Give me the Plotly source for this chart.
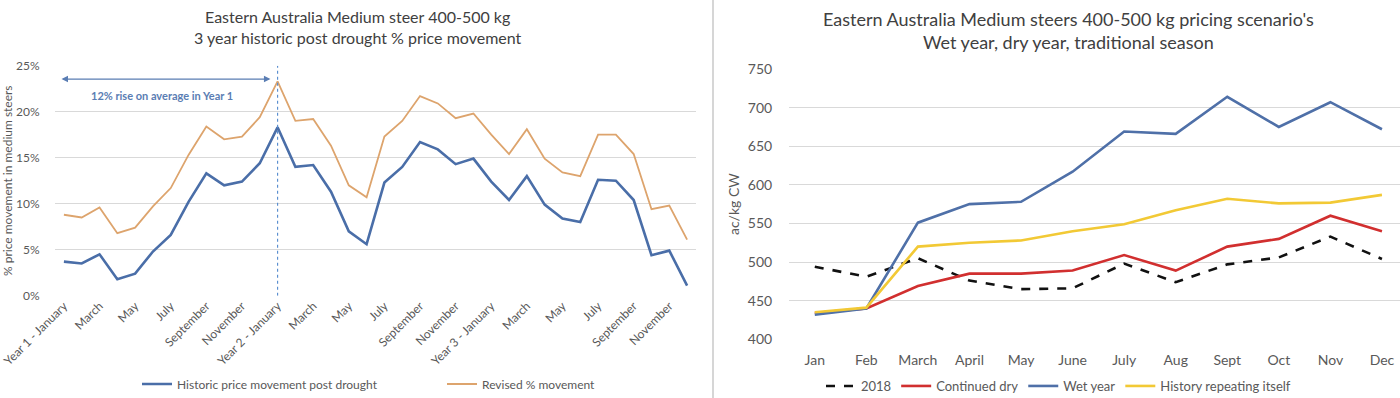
import plotly.graph_objects as go

# ---------------- Left chart data ----------------
left_labels = []
for yr in (1, 2, 3):
    for i, m in enumerate(["January", "February", "March", "April", "May", "June", "July",
                           "August", "September", "October", "November", "December"]):
        left_labels.append(f"Year {yr} - {m}" if i == 0 else m)

historic_pct = [3.7, 3.5, 4.5, 1.8, 2.4, 4.8, 6.6, 10.2, 13.3, 12.0, 12.4, 14.4,
                18.3, 14.0, 14.2, 11.3, 7.0, 5.6, 12.3, 14.0, 16.7, 15.9, 14.3, 14.9,
                12.4, 10.4, 13.0, 9.9, 8.4, 8.0, 12.6, 12.5, 10.4, 4.4, 4.9, 1.1]
revised_pct = [8.8, 8.5, 9.6, 6.8, 7.4, 9.7, 11.7, 15.3, 18.4, 17.0, 17.3, 19.4,
               23.3, 19.0, 19.2, 16.3, 12.0, 10.7, 17.3, 19.0, 21.7, 20.9, 19.3, 19.8,
               17.5, 15.4, 18.1, 14.9, 13.4, 13.0, 17.5, 17.5, 15.4, 9.4, 9.8, 6.1]
left_ticks = [0, 5, 10, 15, 20, 25]
left_tick_text = [f"{v}%" for v in left_ticks]

# ---------------- Right chart data ----------------
months = ["Jan", "Feb", "March", "April", "May", "June", "July", "Aug", "Sept", "Oct", "Nov", "Dec"]
s2018 = [494, 481, 505, 476, 465, 466, 498, 474, 497, 506, 533, 504]
continued_dry = [434, 440, 469, 485, 485, 489, 509, 489, 520, 530, 560, 540]
wet_year = [432, 440, 551, 575, 578, 617, 669, 666, 714, 675, 707, 672]
history_rep = [435, 441, 520, 525, 528, 540, 549, 567, 582, 576, 577, 587]
right_ticks = [400, 450, 500, 550, 600, 650, 700, 750]

FONT = "Lato, 'Liberation Sans', Arial, sans-serif"
TXT = "#595959"
GRID = "#d9d9d9"

x_idx = list(range(len(left_labels)))

fig = go.Figure()

fig.add_trace(go.Scatter(x=x_idx, y=historic_pct, mode="lines",
                         name="Historic price movement post drought",
                         line=dict(color="#4a6ea8", width=2.6),
                         xaxis="x", yaxis="y", legend="legend"))
fig.add_trace(go.Scatter(x=x_idx, y=revised_pct, mode="lines",
                         name="Revised % movement",
                         line=dict(color="#dda46d", width=1.8),
                         xaxis="x", yaxis="y", legend="legend"))

fig.add_trace(go.Scatter(x=months, y=s2018, mode="lines", name="2018",
                         line=dict(color="#111111", width=2.6, dash="dash"),
                         xaxis="x2", yaxis="y2", legend="legend2"))
fig.add_trace(go.Scatter(x=months, y=continued_dry, mode="lines", name="Continued dry",
                         line=dict(color="#d12f2f", width=2.6),
                         xaxis="x2", yaxis="y2", legend="legend2"))
fig.add_trace(go.Scatter(x=months, y=wet_year, mode="lines", name="Wet year",
                         line=dict(color="#4f70a8", width=2.6),
                         xaxis="x2", yaxis="y2", legend="legend2"))
fig.add_trace(go.Scatter(x=months, y=history_rep, mode="lines", name="History repeating itself",
                         line=dict(color="#f2c935", width=2.6),
                         xaxis="x2", yaxis="y2", legend="legend2"))

W, H = 1400, 398

fig.update_layout(
    width=W, height=H, autosize=False,
    margin=dict(l=0, r=0, t=0, b=0, autoexpand=False),
    paper_bgcolor="white", plot_bgcolor="white",
    font=dict(family=FONT, color=TXT, size=12),
    xaxis=dict(domain=[55 / W, 696 / W], range=[-0.5, 35.5], automargin=False,
               tickmode="array", tickvals=x_idx[::2], ticktext=left_labels[::2],
               tickangle=-45, tickfont=dict(size=12, color=TXT),
               showgrid=False, zeroline=False, showline=False,
               ticks="", anchor="y"),
    yaxis=dict(domain=[1 - 295.7 / H, 1 - 65.7 / H], range=[0, 25], automargin=False,
               tickmode="array", tickvals=left_ticks, ticktext=left_tick_text,
               tickfont=dict(size=12, color=TXT),
               showgrid=True, gridcolor=GRID, gridwidth=1, zeroline=False,
               ticks="outside", ticklen=12, tickcolor="rgba(0,0,0,0)",
               title=dict(text="% price movement in medium steers",
                          font=dict(size=12, color=TXT), standoff=4),
               anchor="x"),
    xaxis2=dict(domain=[789 / W, 1.0], range=[-0.5, 11.35], type="category", automargin=False,
                tickfont=dict(size=14, color=TXT),
                showgrid=False, zeroline=False, showline=False,
                ticks="outside", ticklen=8, tickcolor="rgba(0,0,0,0)",
                anchor="y2"),
    yaxis2=dict(domain=[1 - 339.3 / H, 1 - 69 / H], range=[400, 750], automargin=False,
                tickmode="array", tickvals=right_ticks, tickfont=dict(size=14, color=TXT),
                showgrid=True, gridcolor=GRID, gridwidth=1, zeroline=False,
                ticks="outside", ticklen=13, tickcolor="rgba(0,0,0,0)",
                title=dict(text="ac/kg CW", font=dict(size=14, color=TXT), standoff=4),
                anchor="x2"),
    legend=dict(orientation="h", x=137 / W, y=1 - 384 / H, xanchor="left", yanchor="middle",
                font=dict(size=12, color=TXT), bgcolor="rgba(0,0,0,0)",
                entrywidth=260, entrywidthmode="pixels", itemwidth=30),
    legend2=dict(orientation="h", x=821 / W, y=1 - 386 / H, xanchor="left", yanchor="middle",
                 font=dict(size=13, color=TXT), bgcolor="rgba(0,0,0,0)", itemwidth=30),
    showlegend=True,
)

# Titles
fig.add_annotation(x=358 / W, y=1 - 27 / H, xref="paper", yref="paper", showarrow=False,
                   xanchor="center", yanchor="middle",
                   text="Eastern Australia Medium steer 400-500 kg<br>3 year historic post drought % price movement",
                   font=dict(size=16, color="#404040", family=FONT), align="center")
fig.add_annotation(x=1068 / W, y=1 - 30.5 / H, xref="paper", yref="paper", showarrow=False,
                   xanchor="center", yanchor="middle",
                   text="Eastern Australia Medium steers 400-500 kg pricing scenario's<br>Wet year, dry year, traditional season",
                   font=dict(size=18, color="#404040", family=FONT), align="center")

# Divider between the two charts
fig.add_shape(type="line", xref="paper", yref="paper", x0=713 / W, x1=713 / W, y0=0, y1=1,
              line=dict(color="#d6d6d6", width=2))

# Dotted vertical marker at Year 2 - January
fig.add_shape(type="line", xref="x", yref="y", x0=12, x1=12, y0=0, y1=25,
              line=dict(color="#5b8fd0", width=1.2, dash="dot"))

# Double-headed arrow over Year 1
fig.add_annotation(x=11.6, y=23.55, ax=-0.22, ay=23.55, xref="x", yref="y",
                   axref="x", ayref="y", text="", showarrow=True,
                   arrowhead=2, startarrowhead=2, arrowside="end+start",
                   arrowsize=1, arrowwidth=1.3, arrowcolor="#5a7db3")
fig.add_annotation(x=162 / W, y=1 - 96 / H, xref="paper", yref="paper", showarrow=False,
                   xanchor="center", yanchor="middle",
                   text="<b>12% rise on average in Year 1</b>",
                   font=dict(size=11, color="#5a7db3", family=FONT))

fig.write_html("out.html",
               config={"displayModeBar": False},
               post_script="document.body.style.margin='0px';document.body.style.overflow='hidden';")
